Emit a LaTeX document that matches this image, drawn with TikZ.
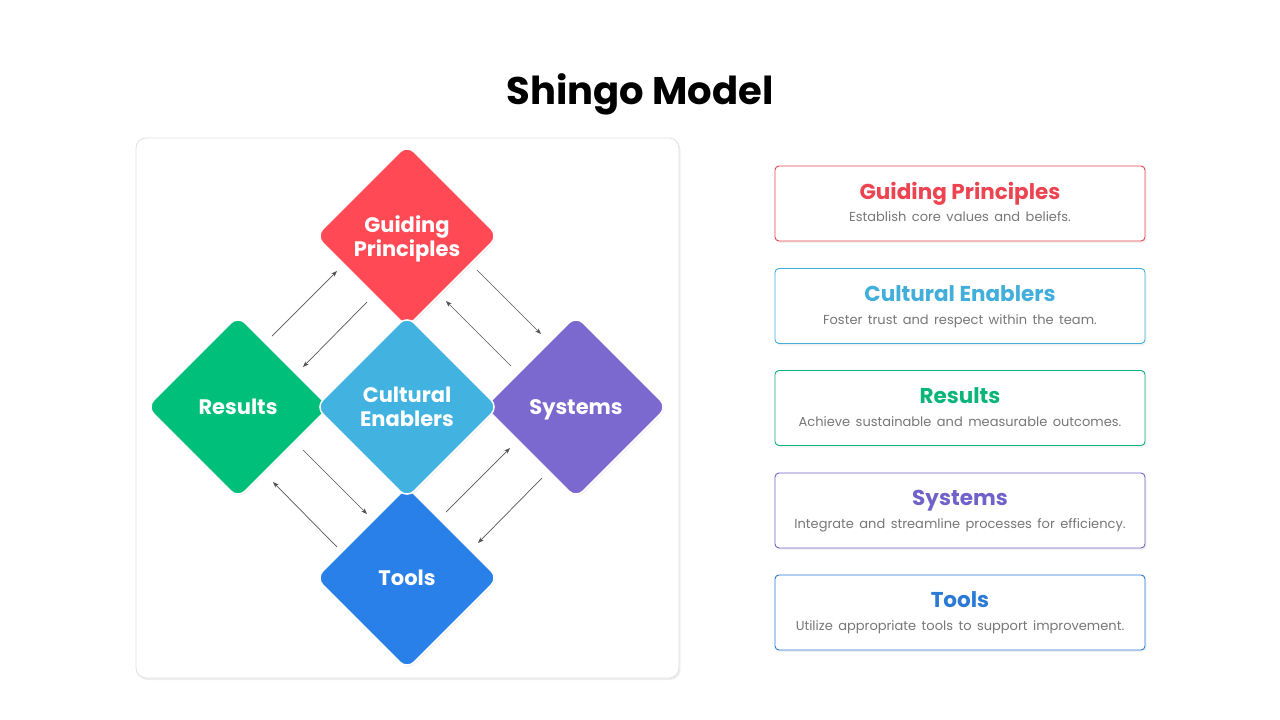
\documentclass[tikz,border=0pt]{standalone}
\usepackage{fontspec}
\setmainfont{Poppins}
\usetikzlibrary{shapes.geometric,shadows,arrows.meta}
\definecolor{cred}{HTML}{FF4A55}
\definecolor{ccyan}{HTML}{42B3E0}
\definecolor{cgreen}{HTML}{00BF7B}
\definecolor{cpurple}{HTML}{7B69D0}
\definecolor{cblue}{HTML}{2880E8}
\definecolor{tred}{HTML}{EC4450}
\definecolor{tcyan}{HTML}{41AEDB}
\definecolor{tgreen}{HTML}{0BB579}
\definecolor{tpurple}{HTML}{7062C8}
\definecolor{tblue}{HTML}{2A7AD6}
\definecolor{subgray}{HTML}{777777}
\definecolor{arrowgray}{HTML}{555555}
\newcommand\widewordsp{\spaceskip=0.42em plus 0.1em\relax}
\begin{document}
\begin{tikzpicture}[x=1pt,y=-1pt,
  dia/.style={diamond, aspect=1, minimum width=183pt, minimum height=183pt, inner sep=0pt,
    rounded corners=10pt, draw=white, line width=1.5pt, text=white, text depth=0pt,
    font=\fontsize{21}{24}\selectfont\bfseries, align=center,
    drop shadow={opacity=0.12, shadow xshift=1pt, shadow yshift=-1.5pt}},
  infobox/.style={rectangle, minimum width=370pt, minimum height=75pt, rounded corners=4pt,
    fill=white, line width=0.9pt,
    drop shadow={opacity=0.10, shadow xshift=1.5pt, shadow yshift=-2pt}},
  boxtitle/.style={font=\fontsize{21.5}{24}\selectfont\bfseries, inner sep=0pt, text depth=0pt},
  boxsub/.style={font=\fontsize{13}{15}\selectfont\widewordsp, text=subgray, inner sep=0pt, text depth=0pt},
  link/.style={draw=arrowgray, line width=0.7pt, -{Stealth[length=6pt,width=4.5pt]}}
]
\useasboundingbox (0,0) rectangle (1280,720);
\fill[white] (0,0) rectangle (1280,720);

\node[font=\fontsize{38.5}{42}\selectfont\bfseries, inner sep=0pt, text depth=0pt] (title) at (640,89) {Shingo Model};

\node[rectangle, minimum width=543pt, minimum height=540pt, rounded corners=10pt,
  draw=black!12, fill=white, line width=0.8pt,
  drop shadow={opacity=0.12, shadow xshift=1.5pt, shadow yshift=-2pt}] (panel) at (407.5,408) {};

\node[dia, fill=cred] (gp) at (407,236) {Guiding\\Principles};
\node[dia, fill=cgreen] (rs) at (238,407) {Results};
\node[dia, fill=cpurple] (sy) at (576,407) {Systems};
\node[dia, fill=cblue] (tl) at (407,578) {Tools};
\node[dia, fill=ccyan] (ce) at (407,407) {Cultural\\Enablers};

% arrow end points
\coordinate (a1s) at (272,336); \coordinate (a1e) at (337,271);
\coordinate (a2s) at (367,302); \coordinate (a2e) at (303,367);
\coordinate (a3s) at (477,270); \coordinate (a3e) at (541,334);
\coordinate (a4s) at (511,366); \coordinate (a4e) at (446,301);
\coordinate (a5s) at (303,450); \coordinate (a5e) at (367,514);
\coordinate (a6s) at (337,547); \coordinate (a6e) at (273,482);
\coordinate (a7s) at (446,512); \coordinate (a7e) at (510,448);
\coordinate (a8s) at (542,478); \coordinate (a8e) at (478,543);
\draw[link] (a1s) -- (a1e);
\draw[link] (a2s) -- (a2e);
\draw[link] (a3s) -- (a3e);
\draw[link] (a4s) -- (a4e);
\draw[link] (a5s) -- (a5e);
\draw[link] (a6s) -- (a6e);
\draw[link] (a7s) -- (a7e);
\draw[link] (a8s) -- (a8e);

% right info boxes
\node[infobox, draw=tred] (b1) at (960,203.5) {};
\node[boxtitle, text=tred] (b1t) at ([yshift=12.5pt]b1.center) {Guiding Principles};
\node[boxsub] (b1s) at ([yshift=-13.5pt]b1.center) {Establish core values and beliefs.};

\node[infobox, draw=tcyan] (b2) at (960,306) {};
\node[boxtitle, text=tcyan] (b2t) at ([yshift=12.5pt]b2.center) {Cultural Enablers};
\node[boxsub] (b2s) at ([yshift=-13.5pt]b2.center) {Foster trust and respect within the team.};

\node[infobox, draw=tgreen] (b3) at (960,408) {};
\node[boxtitle, text=tgreen] (b3t) at ([yshift=12.5pt]b3.center) {Results};
\node[boxsub] (b3s) at ([yshift=-13.5pt]b3.center) {Achieve sustainable and measurable outcomes.};

\node[infobox, draw=tpurple] (b4) at (960,510.5) {};
\node[boxtitle, text=tpurple] (b4t) at ([yshift=12.5pt]b4.center) {Systems};
\node[boxsub] (b4s) at ([yshift=-13.5pt]b4.center) {Integrate and streamline processes for efficiency.};

\node[infobox, draw=tblue] (b5) at (960,612.5) {};
\node[boxtitle, text=tblue] (b5t) at ([yshift=12.5pt]b5.center) {Tools};
\node[boxsub] (b5s) at ([yshift=-13.5pt]b5.center) {Utilize appropriate tools to support improvement.};
\end{tikzpicture}
\end{document}
